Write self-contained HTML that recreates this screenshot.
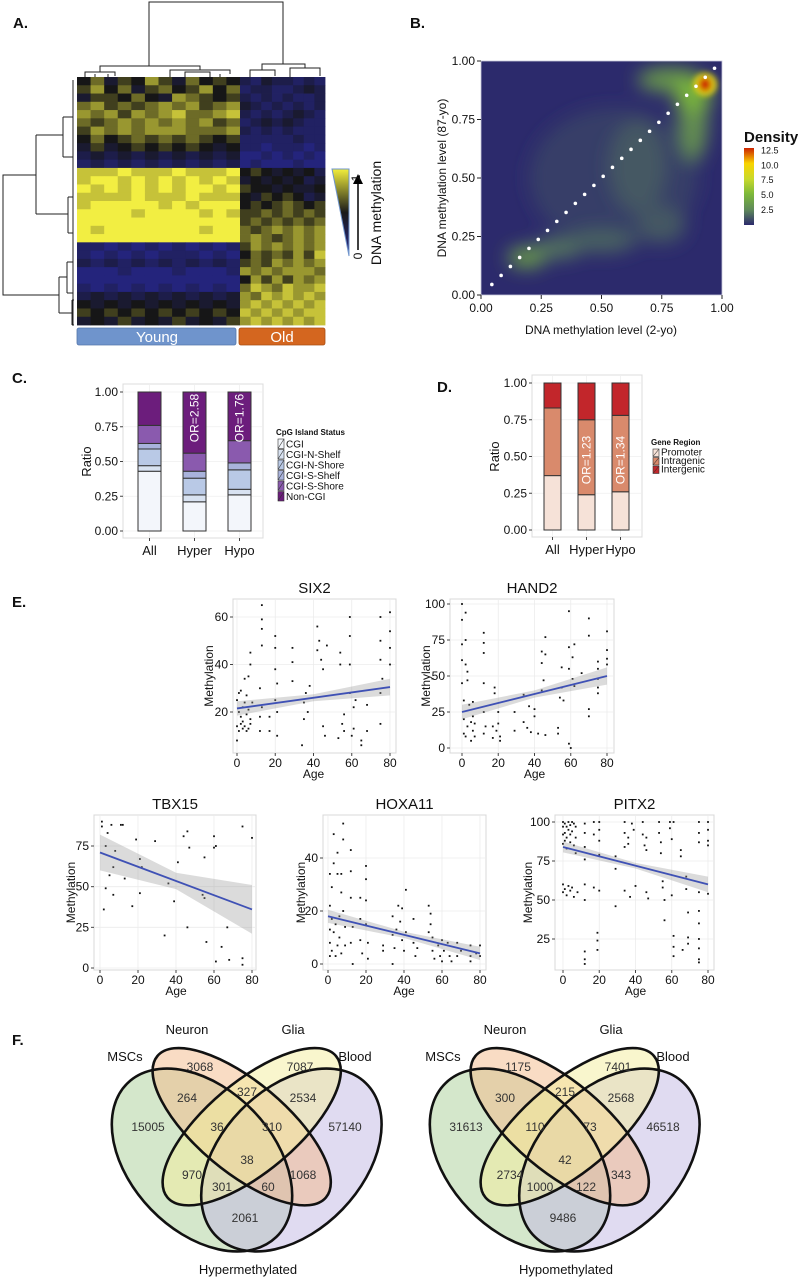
<!DOCTYPE html>
<html><head><meta charset="utf-8">
<style>
html,body{margin:0;padding:0;background:#fff;}
svg{display:block;font-family:"Liberation Sans",sans-serif;}
.n{font-family:"Liberation Sans Narrow","Liberation Sans",sans-serif;}
</style></head>
<body>
<svg id="fig" width="798" height="1280" viewBox="0 0 798 1280" xmlns="http://www.w3.org/2000/svg">
<defs>
<filter id="blur" x="-50%" y="-50%" width="200%" height="200%"><feGaussianBlur stdDeviation="9"/></filter>
<filter id="blur2" x="-50%" y="-50%" width="200%" height="200%"><feGaussianBlur stdDeviation="3"/></filter>
<clipPath id="bclip"><rect x="481" y="61" width="241" height="234"/></clipPath>
<linearGradient id="tri" x1="0" y1="0" x2="0" y2="1"><stop offset="0" stop-color="#f2ee3c"/><stop offset="0.5" stop-color="#1a1a1a"/><stop offset="1" stop-color="#2a2a8a"/></linearGradient>
<linearGradient id="dens" x1="0" y1="1" x2="0" y2="0"><stop offset="0" stop-color="#2c2a6c"/><stop offset="0.2" stop-color="#5f8a5a"/><stop offset="0.4" stop-color="#7cb83a"/><stop offset="0.6" stop-color="#c9d92c"/><stop offset="0.8" stop-color="#f9d400"/><stop offset="1" stop-color="#cc2200"/></linearGradient>
</defs>
</svg>
<script>
// ---------- DATA ----------
const heatRows = [
"46354753645421322121","57463564574612211232","35546437654521212112","67565676756732121212",
"76757678667821212321","65676767675612323211","57676777666721212111","46456565654511111211",
"35345454543411011101","23232323232300101010","12121212121201000100","88898889888945434342",
"89989898989834343423","98989898998954434334","88889888988843545423","89999989899945456545",
"99998999989855656565","99999999999956565656","98999999989965676767","99999999999967656767",
"11010101010157676767","10101011101046565758","21212121212156576767","00010001000176767776",
"00000000000047575767","10101010101068768778","23232323232376878787","43434343434378787878",
"54545454545487878788","34353435343578787878"];
const densityX = [0.55, 0.78, 0.88, 0.88, 0.65, 0.19, 0.32, 0.5, 0.75, 0.93, 0.93];
const densityY = [0.5, 0.92, 0.75, 0.86, 0.55, 0.16, 0.2, 0.23, 0.3, 0.9, 0.9];
const densityRX = [0.35, 0.13, 0.06, 0.08, 0.12, 0.08, 0.1, 0.14, 0.1, 0.05, 0.026];
const densityRY = [0.3, 0.05, 0.18, 0.08, 0.2, 0.045, 0.045, 0.05, 0.08, 0.05, 0.03];
const densityLevel = [1.0, 4, 3.5, 5, 1.3, 4, 2.2, 1.6, 1.3, 9, 12.5];
const densityTicks = [2.5, 5.0, 7.5, 10.0, 12.5];
const bTicks = [0, 0.25, 0.5, 0.75, 1];
const ablineSlope = 1, ablineIntercept = 0;

const cCategories = ["All","Hyper","Hypo"];
const cLevels = ["CGI","CGI-N-Shelf","CGI-N-Shore","CGI-S-Shelf","CGI-S-Shore","Non-CGI"];
const cAll = [0.43,0.04,0.12,0.04,0.13,0.24];
const cHyper = [0.21,0.05,0.12,0.05,0.13,0.44];
const cHypo = [0.26,0.04,0.14,0.05,0.16,0.35];
const cOR = ["", "OR=2.58", "OR=1.76"];
const dCategories = ["All","Hyper","Hypo"];
const dLevels = ["Promoter","Intragenic","Intergenic"];
const dAll = [0.37,0.46,0.17];
const dHyper = [0.24,0.51,0.25];
const dHypo = [0.26,0.52,0.22];
const dOR = ["", "OR=1.23", "OR=1.34"];
const ratioTicks = [0,0.25,0.5,0.75,1];

const six2 = [[0,8],[0,25],[0,14],[1,12],[1,28],[1,20],[2,15],[2,18],[2,29],[3,22],[3,13],[3,16],[4,14],[4,24],[4,34],[5,19],[5,12],[5,27],[6,13],[6,21],[6,35],[7,17],[7,45],[7,40],[7,15],[8,24],[12,12],[12,18],[12,30],[13,65],[13,59],[13,55],[13,48],[13,22],[17,18],[17,12],[20,52],[20,47],[20,38],[20,25],[21,10],[21,20],[21,32],[29,33],[29,41],[29,47],[34,6],[35,24],[35,17],[36,28],[37,20],[38,31],[42,56],[42,46],[43,50],[44,42],[45,38],[45,14],[46,10],[47,48],[53,9],[54,40],[54,45],[55,15],[56,12],[56,19],[59,60],[59,52],[59,40],[59,28],[60,10],[61,22],[61,13],[62,25],[65,8],[65,6],[68,12],[68,23],[75,60],[75,50],[75,42],[75,28],[75,15],[76,34],[80,62],[80,54],[80,47],[80,40]];
const hand2 = [[0,100],[0,89],[0,72],[0,61],[0,45],[1,33],[1,20],[1,10],[2,94],[2,75],[2,58],[2,8],[3,53],[3,47],[3,15],[4,30],[5,18],[5,5],[6,32],[6,22],[6,12],[7,17],[7,8],[12,80],[12,73],[12,66],[12,45],[12,25],[12,10],[13,15],[17,15],[17,7],[18,42],[18,38],[19,12],[20,25],[20,17],[21,8],[21,5],[29,12],[29,25],[34,18],[34,37],[36,14],[37,29],[38,11],[40,27],[40,22],[42,10],[44,67],[44,59],[44,40],[45,47],[46,77],[46,65],[46,9],[53,14],[53,10],[54,35],[55,56],[55,42],[56,33],[59,95],[59,70],[59,55],[59,3],[60,0],[61,63],[61,48],[62,72],[62,43],[66,52],[70,90],[70,78],[70,27],[70,22],[75,60],[75,55],[75,48],[75,42],[75,38],[80,81],[80,68],[80,62],[80,58]];
const tbx15 = [[1,90],[1,87],[2,36],[3,49],[3,75],[4,83],[5,57],[6,88],[7,62],[7,45],[8,72],[11,88],[12,88],[13,55],[17,38],[19,79],[21,67],[21,46],[22,62],[29,78],[34,20],[36,52],[39,41],[41,65],[44,81],[46,25],[46,84],[47,74],[54,45],[55,43],[55,68],[56,16],[60,81],[60,74],[61,4],[61,75],[64,13],[67,25],[68,5],[75,87],[75,6],[75,2],[80,80]];
const hoxa11 = [[1,3],[1,8],[1,13],[1,22],[1,34],[2,5],[2,17],[2,29],[3,49],[3,38],[3,12],[4,15],[4,3],[5,42],[5,34],[5,7],[6,10],[6,18],[7,34],[7,27],[7,4],[8,53],[8,47],[8,20],[9,14],[9,7],[12,43],[12,35],[12,25],[12,8],[13,0],[13,14],[17,25],[17,17],[17,9],[18,4],[20,37],[20,32],[20,24],[20,15],[21,8],[21,2],[29,7],[29,5],[34,18],[34,11],[34,0],[35,6],[36,13],[37,22],[38,16],[39,21],[39,9],[40,5],[41,28],[41,12],[45,17],[45,8],[46,3],[47,6],[53,22],[53,12],[54,19],[54,15],[55,10],[55,5],[56,2],[58,7],[59,3],[60,9],[60,1],[61,5],[63,8],[64,3],[65,1],[68,8],[68,3],[70,5],[75,7],[75,3],[75,1],[78,4],[80,7],[80,3]];
const pitx2 = [[0,100],[0,97],[0,92],[0,86],[0,60],[0,55],[1,99],[1,93],[1,88],[1,57],[2,97],[2,90],[2,83],[2,53],[3,100],[3,95],[3,59],[4,98],[4,92],[4,87],[4,56],[5,100],[5,94],[5,58],[6,99],[6,85],[6,52],[7,97],[7,90],[7,80],[8,55],[12,99],[12,93],[12,84],[12,76],[12,60],[12,50],[12,17],[12,12],[12,9],[17,100],[17,92],[17,58],[19,29],[19,24],[19,18],[20,100],[20,95],[20,88],[20,79],[20,56],[29,78],[29,70],[29,46],[34,100],[34,93],[34,84],[34,56],[36,90],[36,86],[37,52],[38,99],[39,95],[40,59],[44,100],[44,92],[45,85],[46,90],[46,82],[46,55],[47,51],[53,100],[53,93],[54,87],[54,80],[55,62],[55,58],[56,37],[56,50],[59,100],[59,96],[60,89],[60,53],[61,100],[61,27],[61,20],[61,14],[65,82],[65,78],[66,18],[68,65],[68,57],[69,42],[69,26],[69,22],[75,100],[75,93],[75,87],[75,55],[75,43],[75,35],[75,25],[75,19],[75,12],[75,10],[80,100],[80,95],[80,88],[80,85],[80,54]];
const fitStart = [21.5, 25, 71, 18, 84];
const fitEnd = [30.5, 50, 36, 4, 60];
const bandStart = [3, 5, 11, 2.5, 3.5];
const bandMid = [1.5, 2.5, 5, 1.2, 1.8];
const bandEnd = [3.5, 6, 15, 2.5, 5];
const ageTicks = [0,20,40,60,80];

const vennLabels = ["15005","3068","7087","57140","264","327","2534","36","310","38","970","1068","301","60","2061"];
const vennLabels2 = ["31613","1175","7401","46518","300","215","2568","110","73","42","2734","343","1000","122","9486"];

// ---------- HELPERS ----------
const NS='http://www.w3.org/2000/svg';
const svg=document.getElementById('fig');
function mk(tag, attrs, name, parent){
  const el=document.createElementNS(NS,tag);
  for(const k in attrs) el.setAttribute(k,attrs[k]);
  
  
  (parent||svg).appendChild(el); return el;
}
function txt(x,y,s,size,name,opt){
  opt=opt||{};
  const el=mk('text',{x:x,y:y,'font-size':size,'text-anchor':opt.anchor||'middle',fill:opt.fill||'#111','font-weight':opt.bold?'bold':'normal'},name,opt.parent);
  if(opt.narrow) el.setAttribute('class','n');
  if(opt.rot!==undefined) el.setAttribute('transform','rotate('+opt.rot+' '+x+' '+y+')');
  el.textContent=s; return el;
}
function line(x1,y1,x2,y2,stroke,w,name,parent){return mk('line',{x1:x1,y1:y1,x2:x2,y2:y2,stroke:stroke,'stroke-width':w},name,parent);}

// ---------- PANEL A ----------
txt(13,28,"A.",15,'panel-a-label',{anchor:'start',bold:true});
function heatColor(v){
  const t=v/9;
  const lerp=(a,b,u)=>a.map((c,i)=>Math.round(c+(b[i]-c)*u));
  let c;
  if(t<0.45) c=lerp([36,36,124],[22,22,22],t/0.45); else c=lerp([22,22,22],[242,238,66],(t-0.45)/0.55);
  return 'rgb('+c.join(',')+')';
}
(function(){
  const x0=77,x1=325,y0=77,y1=325,split=240;
  const rh=(y1-y0)/heatRows.length;
  const g=mk('g',{},'heatmap');
  heatRows.forEach((row,r)=>{
    for(let c=0;c<row.length;c++){
      let cx,cw;
      if(c<12){cw=(split-x0)/12;cx=x0+c*cw;} else {cw=(x1-split)/8;cx=split+(c-12)*cw;}
      mk('rect',{x:cx.toFixed(2),y:(y0+r*rh).toFixed(2),width:(cw+0.4).toFixed(2),height:(rh+0.4).toFixed(2),fill:heatColor(+row[c])},'heatmap-cell',g);
    }
  });
  const d=mk('g',{stroke:'#222','stroke-width':1,fill:'none'},'column-dendrogram');
  mk('path',{d:'M149,66 V2 H283 V64 M100,72 V66 H200 V70 M262,70 V64 H305 V68 M85,77 V72 H115 V76 M170,77 V70 H230 V74 M250,77 V70 H275 V76 M290,77 V68 H320 V76 M95,77 V74 M108,77 V74 M185,77 V72 H210 V77 M220,77 V74'},'dendrogram-branches',d);
  const l=mk('g',{stroke:'#222','stroke-width':1,fill:'none'},'row-dendrogram');
  mk('path',{d:'M36,175 H3 V295 H59 M36,135 V214 M63,135 H36 M68,214 H36 M63,117 V157 M73,117 H63 M73,157 H63 M68,197 V233 M73,197 H68 M73,233 H68 M59,277 V313 M67,277 H59 M72,313 H59 M67,262 V293 M73,262 H67 M73,293 H67 M72,300 V325 M74,300 H72 M74,325 H72 M73,80 V325'},'dendrogram-branches',l);
  mk('rect',{x:77,y:328,width:159,height:17,rx:2,fill:'#6f94cc',stroke:'#5577aa','stroke-width':0.8},'young-group-bar');
  mk('rect',{x:239,y:328,width:86,height:17,rx:2,fill:'#d4661f',stroke:'#a84f15','stroke-width':0.8},'old-group-bar');
  txt(157,342,"Young",15,'young-label',{fill:'#fff'});
  txt(282,342,"Old",15,'old-label',{fill:'#fff'});
  mk('polygon',{points:'332,169 349,169 349,256',fill:'url(#tri)',stroke:'#6f94cc','stroke-width':1},'methylation-color-key');
  line(358,250,358,182,'#000',1.5,'key-arrow-shaft');
  mk('polygon',{points:'353,184 363,184 358,174',fill:'#000'},'key-arrow-head');
  txt(360,178,"1",12,'key-max',{rot:-90});
  txt(362,256,"0",12,'key-min',{rot:-90});
  txt(381,213,"DNA methylation",14,'key-title',{rot:-90});
})();

// ---------- PANEL B ----------
txt(410,28,"B.",15,'panel-b-label',{anchor:'start',bold:true});
(function(){
  const px0=481,px1=722,py0=295,py1=61;
  const X=v=>px0+(px1-px0)*v, Y=v=>py0-(py0-py1)*v;
  const stops=[[0,[44,42,108]],[2.5,[95,138,90]],[5,[124,184,58]],[7.5,[201,217,44]],[10,[249,212,0]],[12.5,[204,34,0]]];
  function dc(v){for(let i=1;i<stops.length;i++){if(v<=stops[i][0]){const a=stops[i-1],b=stops[i],u=(v-a[0])/(b[0]-a[0]);return 'rgb('+a[1].map((c,k)=>Math.round(c+(b[1][k]-c)*u)).join(',')+')';}}return 'rgb(204,34,0)';}
  const g=mk('g',{'clip-path':'url(#bclip)'},'density-plot');
  mk('rect',{x:px0,y:py1,width:px1-px0,height:py0-py1,fill:'#2c2a6c'},'density-background',g);
  const gb=mk('g',{filter:'url(#blur)'},'density-field',g);
  const gh=mk('g',{filter:'url(#blur2)'},'density-peak',g);
  densityLevel.forEach((lv,i)=>{
    mk('ellipse',{cx:X(densityX[i]),cy:Y(densityY[i]),rx:(px1-px0)*densityRX[i],ry:(py0-py1)*densityRY[i],fill:dc(lv),'fill-opacity':i===0?0.55:0.9},'density-blob',lv>=8?gh:gb);
  });
  for(let v=0.045; v<=0.975; v+=0.0385){
    mk('circle',{cx:X(v),cy:Y(ablineIntercept+ablineSlope*v),r:1.8,fill:'#fff'},'identity-line-dot',g);
  }
  mk('rect',{x:px0,y:py1,width:px1-px0,height:py0-py1,fill:'none',stroke:'#c9c9dd','stroke-width':0.8},'density-border');
  bTicks.forEach(t=>{
    line(px0-4,Y(t),px0,Y(t),'#222',1,'y-tick');
    txt(px0-6,Y(t)+4,t.toFixed(2),12,'y-tick-label',{anchor:'end'});
    line(X(t),py0,X(t),py0+4,'#222',1,'x-tick');
    txt(X(t),py0+17,t.toFixed(2),12,'x-tick-label');
  });
  txt(601,334,"DNA methylation level (2-yo)",12,'x-axis-title');
  txt(446,178,"DNA methylation level (87-yo)",12,'y-axis-title',{rot:-90});
  txt(744,142,"Density",15,'legend-title',{anchor:'start',bold:true});
  mk('rect',{x:744,y:148,width:10,height:77,fill:'url(#dens)'},'density-colorbar');
  densityTicks.forEach(t=>{
    const y=225-(t/12.9)*77;
    txt(761,y+3,t.toFixed(1),9,'legend-tick-label',{anchor:'start'});
  });
})();

// ---------- PANELS C & D ----------
function stackPanel(o){
  const Y=v=>o.y0-(o.y0-o.y1)*v;
  mk('rect',{x:o.px0,y:o.py0,width:o.px1-o.px0,height:o.py1-o.py0,fill:'#fff',stroke:'#dcdcdc','stroke-width':1},o.name+'-panel');
  ratioTicks.forEach(t=>{
    line(o.px0,Y(t),o.px1,Y(t),'#efefef',0.8,'grid-line');
    line(o.px0-3,Y(t),o.px0,Y(t),'#444',1,'y-tick');
    txt(o.px0-5,Y(t)+4,t.toFixed(2),12,'y-tick-label',{anchor:'end',narrow:true});
  });
  o.cats.forEach((c,i)=>{
    const bx=o.bars[i], vals=o.data[i];
    line(bx+o.bw/2,o.py0,bx+o.bw/2,o.py1,'#efefef',0.8,'grid-line');
    let acc=0;
    vals.forEach((v,k)=>{
      mk('rect',{x:bx,y:Y(acc+v),width:o.bw,height:Y(acc)-Y(acc+v),fill:o.colors[k],stroke:'#333','stroke-width':1},'bar-'+c.toLowerCase()+'-'+o.levels[k].toLowerCase(),undefined);
      acc+=v;
    });
    line(bx+o.bw/2,o.py1,bx+o.bw/2,o.py1+3,'#444',1,'x-tick');
    txt(bx+o.bw/2,o.py1+17,c,13,'x-tick-label',{narrow:true});
    if(o.or[i]) txt(bx+o.bw/2+4,o.orY,o.or[i],12,'odds-ratio-label',{fill:'#fff',rot:-90});
  });
  txt(o.titleX,(o.y0+o.y1)/2,"Ratio",13,'y-axis-title',{rot:-90});
  txt(o.lx-2,o.ly,o.ltitle,8,'legend-title',{anchor:'start',bold:true,narrow:true});
  o.levels.forEach((lv,k)=>{
    const y=o.ly+4+k*o.lstep;
    mk('rect',{x:o.lx,y:y,width:6,height:o.lstep-1,fill:o.colors[k],stroke:'#333','stroke-width':0.6},'legend-swatch');
    line(o.lx,y+o.lstep-1,o.lx+6,y,'#333',0.6,'legend-swatch-slash');
    txt(o.lx+8,y+o.lstep-2,lv,10,'legend-entry',{anchor:'start',narrow:true});
  });
}
txt(12,383,"C.",15,'panel-c-label',{anchor:'start',bold:true});
stackPanel({name:'cpg',px0:123,px1:263,py0:384,py1:538,y0:531,y1:392,cats:cCategories,bars:[138,183,228],bw:23,
  data:[cAll,cHyper,cHypo],levels:cLevels,colors:['#f3f6fb','#d8e2f1','#b9c9e6','#a9b3dc','#8a5aae','#6c1d7c'],
  or:cOR,orY:418,titleX:91,lx:278,ly:435,ltitle:"CpG Island Status",lstep:10.5});
txt(437,392,"D.",15,'panel-d-label',{anchor:'start',bold:true});
stackPanel({name:'gene-region',px0:532,px1:642,py0:375,py1:537,y0:530,y1:383,cats:dCategories,bars:[544,578,612],bw:17,
  data:[dAll,dHyper,dHypo],levels:dLevels,colors:['#f6e2d8','#d98a6c','#c2262b'],
  or:dOR,orY:460,titleX:499,lx:653,ly:445,ltitle:"Gene Region",lstep:8.5});

// ---------- PANEL E ----------
txt(12,607,"E.",15,'panel-e-label',{anchor:'start',bold:true});
function scatter(o,pts,idx){
  const X=v=>o.ax0+(o.ax1-o.ax0)*v/80;
  const Y=v=>o.yA+(o.yB-o.yA)*(v-o.vA)/(o.vB-o.vA);
  const g=mk('g',{},o.name+'-plot');
  mk('rect',{x:o.box[0],y:o.box[1],width:o.box[2]-o.box[0],height:o.box[3]-o.box[1],fill:'#fff',stroke:'#d8d8d8','stroke-width':1},'plot-panel',g);
  o.ticks.forEach(t=>{
    line(o.box[0],Y(t),o.box[2],Y(t),'#ececec',0.8,'grid-line',g);
    line(o.box[0]-3,Y(t),o.box[0],Y(t),'#444',1,'y-tick',g);
    txt(o.box[0]-5,Y(t)+4,String(t),12,'y-tick-label',{anchor:'end',narrow:true,parent:g});
  });
  ageTicks.forEach(t=>{
    line(X(t),o.box[1],X(t),o.box[3],'#ececec',0.8,'grid-line',g);
    line(X(t),o.box[3],X(t),o.box[3]+3,'#444',1,'x-tick',g);
    txt(X(t),o.box[3]+14,String(t),12,'x-tick-label',{narrow:true,parent:g});
  });
  pts.forEach(p=>{
    mk('rect',{x:X(p[0])-0.9,y:Y(p[1])-0.9,width:1.8,height:1.8,fill:'#111'},'data-point',g);
  });
  const f0=fitStart[idx],f1=fitEnd[idx],fm=(f0+f1)/2;
  const pts2=[[0,f0+bandStart[idx]],[40,fm+bandMid[idx]],[80,f1+bandEnd[idx]],[80,f1-bandEnd[idx]],[40,fm-bandMid[idx]],[0,f0-bandStart[idx]]];
  mk('polygon',{points:pts2.map(p=>X(p[0]).toFixed(1)+','+Y(p[1]).toFixed(1)).join(' '),fill:'#999','fill-opacity':0.35},'confidence-band',g);
  mk('line',{x1:X(0),y1:Y(f0),x2:X(80),y2:Y(f1),stroke:'#3f51b5','stroke-width':1.8},'regression-line',g);
  txt((o.box[0]+o.box[2])/2,o.box[1]-6,o.name,15,'plot-title',{parent:g});
  txt((o.ax0+o.ax1)/2,o.box[3]+25,"Age",12,'x-axis-title',{parent:g});
  txt(o.ytx,(o.box[1]+o.box[3])/2,"Methylation",12,'y-axis-title',{rot:-90,parent:g});
}
scatter({name:'SIX2',box:[233,599,396,753],ax0:237,ax1:390,yA:617,vA:60,yB:712,vB:20,ticks:[20,40,60],ytx:213},six2,0);
scatter({name:'HAND2',box:[450,599,614,753],ax0:462,ax1:607,yA:604,vA:100,yB:748,vB:0,ticks:[0,25,50,75,100],ytx:430},hand2,1);
scatter({name:'TBX15',box:[94,815,256,970],ax0:100,ax1:252,yA:846,vA:75,yB:968,vB:0,ticks:[0,25,50,75],ytx:75},tbx15,2);
scatter({name:'HOXA11',box:[323,815,486,970],ax0:328,ax1:480,yA:858,vA:40,yB:964,vB:0,ticks:[0,20,40],ytx:305},hoxa11,3);
scatter({name:'PITX2',box:[555,815,714,970],ax0:563,ax1:708,yA:822,vA:100,yB:939,vB:25,ticks:[25,50,75,100],ytx:532},pitx2,4);

// ---------- PANEL F ----------
txt(12,1045,"F.",15,'panel-f-label',{anchor:'start',bold:true});
const vennPos=[[148,1127],[200,1067],[300,1067],[345,1127],[187,1098],[247,1092],[303,1098],[217,1127],[272,1127],[247,1160],[192,1175],[303,1175],[222,1187],[268,1187],[245,1218]];
function venn(dx,labels,title,name){
  const g=mk('g',{transform:'translate('+dx+',0)'},name);
  const sh=[['MSCs',202,1160,107,71,46,'#a9cf97'],['Blood',291.4,1160,107,71,-46,'#c1b8e3'],['Neuron',241.7,1126.7,110,45,40,'#f3b98a'],['Glia',251.7,1126.7,110,45,-40,'#f4ee9c']];
  sh.forEach(s=>mk('ellipse',{cx:s[1],cy:s[2],rx:s[3],ry:s[4],transform:'rotate('+s[5]+' '+s[1]+' '+s[2]+')',fill:s[6],'fill-opacity':0.5},'venn-set-'+s[0].toLowerCase(),g));
  sh.forEach(s=>mk('ellipse',{cx:s[1],cy:s[2],rx:s[3],ry:s[4],transform:'rotate('+s[5]+' '+s[1]+' '+s[2]+')',fill:'none',stroke:'#111','stroke-width':2.6},'venn-outline-'+s[0].toLowerCase(),g));
  labels.forEach((l,i)=>txt(vennPos[i][0],vennPos[i][1]+4,l,12,'venn-count',{narrow:true,fill:'#333',parent:g}));
  txt(187,1034,"Neuron",13,'set-label-neuron',{narrow:true,parent:g});
  txt(293,1034,"Glia",13,'set-label-glia',{narrow:true,parent:g});
  txt(125,1061,"MSCs",13,'set-label-mscs',{narrow:true,parent:g});
  txt(355,1061,"Blood",13,'set-label-blood',{narrow:true,parent:g});
  txt(248,1274,title,13,'venn-title',{narrow:true,parent:g});
}
venn(0,vennLabels,"Hypermethylated",'venn-hypermethylated');
venn(318,vennLabels2,"Hypomethylated",'venn-hypomethylated');
</script>
</body></html>
